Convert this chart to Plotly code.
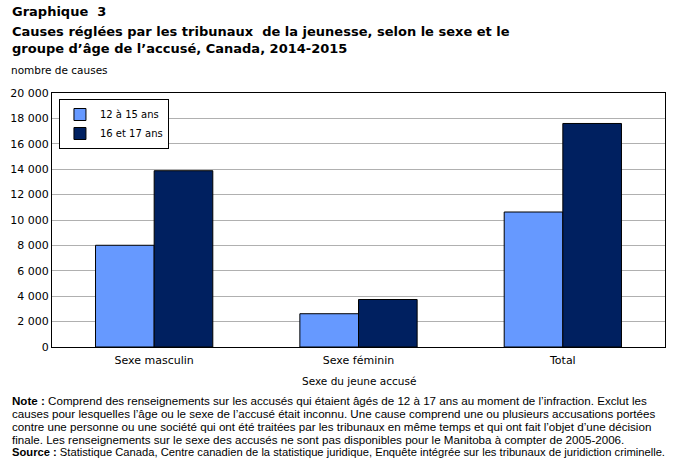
import plotly.graph_objects as go

categories = ["Sexe masculin", "Sexe féminin", "Total"]
series_names = ["12 à 15 ans", "16 et 17 ans"]
values_12_15 = [8010, 2620, 10630]
values_16_17 = [13880, 3740, 17600]
colors = ["#6699FF", "#002060"]

title_lines = [
    "Graphique  3",
    "Causes réglées par les tribunaux  de la jeunesse, selon le sexe et le",
    "groupe d’âge de l’accusé, Canada, 2014-2015",
]
y_unit = "nombre de causes"
x_title = "Sexe du jeune accusé"
note_lines = [
    "<b>Note :</b> Comprend des renseignements sur les accusés qui étaient âgés de 12 à 17 ans au moment de l’infraction. Exclut les",
    "causes pour lesquelles l’âge ou le sexe de l’accusé était inconnu. Une cause comprend une ou plusieurs accusations portées",
    "contre une personne ou une société qui ont été traitées par les tribunaux en même temps et qui ont fait l’objet d’une décision",
    "finale. Les renseignements sur le sexe des accusés ne sont pas disponibles pour le Manitoba à compter de 2005-2006.",
    "<b>Source :</b> Statistique Canada, Centre canadien de la statistique juridique, Enquête intégrée sur les tribunaux de juridiction criminelle.",
]
note_sizes = [11.6, 11.6, 11.6, 11.6, 11.2]

L, R, T, B = 49, 10, 93, 115
W, H = 676, 462
ph = H - T - B
pw = W - L - R

def py(y_px):
    return (H - B - y_px) / ph

def px(x_px):
    return (x_px - L) / pw

fig = go.Figure()
for name, vals, c in zip(series_names, [values_12_15, values_16_17], colors):
    fig.add_trace(go.Bar(x=categories, y=vals, name=name, marker_color=c,
                         marker_line_color="black", marker_line_width=1))

title_font = dict(family="DejaVu Sans", size=13, color="black")
annotations = []
for i, (t, y) in enumerate(zip(title_lines, [12, 31, 48])):
    annotations.append(dict(text=f"<b>{t}</b>", x=px(7), y=py(y), xref="paper", yref="paper",
                            xanchor="left", yanchor="middle", showarrow=False, font=title_font))
annotations.append(dict(text=y_unit, x=px(6), y=py(70), xref="paper", yref="paper",
                        xanchor="left", yanchor="middle", showarrow=False,
                        font=dict(family="DejaVu Sans", size=10.5, color="black")))
annotations.append(dict(text=x_title, x=0.5, y=py(381), xref="paper", yref="paper",
                        xanchor="center", yanchor="middle", showarrow=False,
                        font=dict(family="DejaVu Sans", size=10.5, color="black")))
for i, (line, sz) in enumerate(zip(note_lines, note_sizes)):
    annotations.append(dict(text=line, x=px(7), y=py(400 + 13 * i), xref="paper", yref="paper",
                            xanchor="left", yanchor="middle", showarrow=False,
                            font=dict(family="Liberation Sans", size=sz, color="black")))

fig.update_layout(
    width=W, height=H,
    margin=dict(l=L, r=R, t=T, b=B),
    paper_bgcolor="white", plot_bgcolor="white",
    barmode="group", bargap=0.426, bargroupgap=0,
    separators=", ",
    showlegend=True,
    legend=dict(x=px(56), y=py(99), xanchor="left", yanchor="top",
                bgcolor="white", bordercolor="black", borderwidth=1,
                font=dict(family="DejaVu Sans", size=10, color="black"),
                itemwidth=30, tracegroupgap=0),
    annotations=annotations,
    font=dict(family="DejaVu Sans", size=11, color="black"),
)
fig.update_xaxes(showline=True, linecolor="black", linewidth=1, mirror=True,
                 ticks="", ticklabelstandoff=3,
                 tickfont=dict(family="DejaVu Sans", size=11, color="black"))
fig.update_yaxes(range=[0, 20000], dtick=2000, tickformat=",d",
                 showline=True, linecolor="black", linewidth=1, mirror=True,
                 showgrid=True, gridcolor="#B0B0B0", gridwidth=1, zeroline=False,
                 ticks="", tickfont=dict(family="DejaVu Sans", size=11, color="black"))

fig.write_html("out.html")
